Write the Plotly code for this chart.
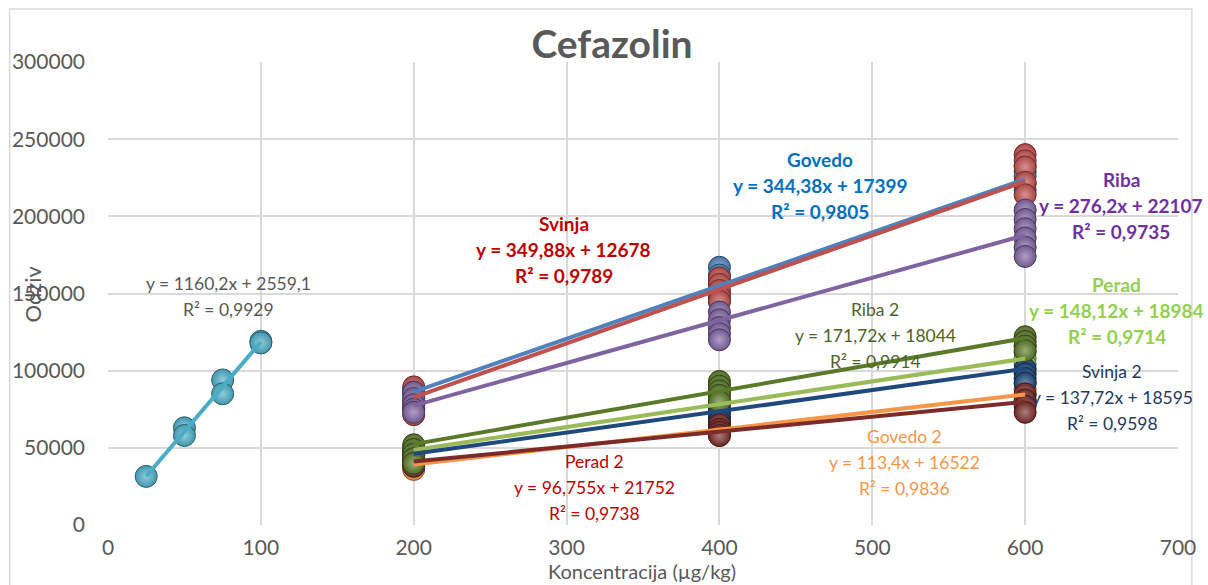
import plotly.graph_objects as go

# ---- data -------------------------------------------------------------
title = "Cefazolin"
x_title = "Koncentracija (µg/kg)"
y_title = "Odziv"

x_ticks = [0, 100, 200, 300, 400, 500, 600, 700]
y_ticks = [0, 50000, 100000, 150000, 200000, 250000, 300000]

# solvent calibration
cal_x = [25, 50, 50, 75, 75, 100, 100]
cal_y = [31500, 63000, 58000, 94000, 85000, 119000, 118000]
cal_slope = 1160.2
cal_intercept = 2559.1
cal_r2 = 0.9929

# matrix-matched calibrations, replicate responses per level
levels = [200, 400, 600]

govedo = [[88000, 85000, 82000, 78000, 75000],
          [167000, 162000, 157000, 150000, 145000],
          [233000, 229000, 226000, 221000, 217000]]
svinja = [[89500, 86000, 80000, 76000, 71500],
          [160000, 156000, 152000, 148000, 145000],
          [240000, 236000, 232000, 222000, 214000]]
riba = [[86000, 82000, 78000, 75000, 73000],
        [138000, 133000, 128000, 124000, 120000],
        [204000, 198000, 192000, 186000, 180000, 174000]]
perad = [[50000, 47000, 44000, 41000],
         [85000, 81000, 77000, 73000],
         [116000, 112000, 108000, 104000]]
govedo2 = [[42000, 40000, 38000, 36000],
           [70000, 66000, 62000, 58000],
           [92000, 88000, 84000, 80000]]
svinja2 = [[48000, 45000, 42000, 40000],
           [78000, 74000, 70000, 67000],
           [101000, 98000, 95000, 92000]]
perad2 = [[46000, 43000, 40000, 38000],
          [65000, 62000, 60000, 58000],
          [85000, 81000, 77000, 73000]]
riba2 = [[52000, 49000, 46000, 43000, 40000],
         [93000, 90000, 87000, 84000, 80000],
         [122000, 119000, 116000, 113000]]

series_names = ["Govedo", "Svinja", "Riba", "Perad",
                "Govedo 2", "Svinja 2", "Perad 2", "Riba 2"]
series_values = [govedo, svinja, riba, perad, govedo2, svinja2, perad2, riba2]
slopes = [344.38, 349.88, 276.2, 148.12, 113.4, 137.72, 96.755, 171.72]
intercepts = [17399, 12678, 22107, 18984, 16522, 18595, 21752, 18044]
r2_values = [0.9805, 0.9789, 0.9735, 0.9714, 0.9836, 0.9598, 0.9738, 0.9914]

# ---- styling ----------------------------------------------------------
marker_colors = {
    "cal": "#4BACC6",
    "Govedo": "#4F81BD", "Svinja": "#C0504D", "Riba": "#8064A2",
    "Perad": "#9BBB59", "Govedo 2": "#F79646", "Svinja 2": "#1F497D",
    "Perad 2": "#7B2C2A", "Riba 2": "#5A7A2A",
}
label_style = {
    # name: (text colour, bold, x, y) in data units
    "cal": ("#595959", False, 79, 148000),
    "Govedo": ("#0070C0", True, 466, 219700),
    "Svinja": ("#C00000", True, 298, 178200),
    "Riba": ("#7030A0", True, 663, 206700),
    "Riba 2": ("#4F6228", False, 502, 123100),
    "Perad": ("#92D050", True, 660, 138700),
    "Svinja 2": ("#1F3864", False, 657, 82300),
    "Govedo 2": ("#F79646", False, 521, 40800),
    "Perad 2": ("#C00000", False, 318, 24000),
}

FONT = "Lato"
GRID = "#D9D9D9"
TEXT = "#595959"


def blend(hex_color, other, t):
    a = [int(hex_color[i:i + 2], 16) for i in (1, 3, 5)]
    b = [int(other[i:i + 2], 16) for i in (1, 3, 5)]
    c = [round(a[k] + (b[k] - a[k]) * t) for k in range(3)]
    return "#%02X%02X%02X" % tuple(c)


def num(v):
    return f"{v:g}".replace(".", ",")


def sphere(color):
    return dict(
        size=22,
        color=blend(color, "#000000", 0.12),
        gradient=dict(type="radial", color=blend(color, "#FFFFFF", 0.38)),
        line=dict(color=blend(color, "#000000", 0.45), width=1),
    )


fig = go.Figure()

# bubbles first, trend lines on top
fig.add_trace(go.Scatter(x=cal_x, y=cal_y, mode="markers",
                         marker=sphere(marker_colors["cal"]),
                         showlegend=False, hoverinfo="x+y"))
for name, vals in zip(series_names, series_values):
    xs, ys = [], []
    for lv, reps in zip(levels, vals):
        xs += [lv] * len(reps)
        ys += reps
    fig.add_trace(go.Scatter(x=xs, y=ys, mode="markers", name=name,
                             marker=sphere(marker_colors[name]),
                             showlegend=False))

trend_x = [cal_x[0], cal_x[-1]]
fig.add_trace(go.Scatter(x=trend_x,
                         y=[cal_slope * v + cal_intercept for v in trend_x],
                         mode="lines", line=dict(color=marker_colors["cal"], width=4),
                         showlegend=False, hoverinfo="skip"))
for name, k, q in zip(series_names, slopes, intercepts):
    tx = [levels[0], levels[-1]]
    fig.add_trace(go.Scatter(x=tx, y=[k * v + q for v in tx], mode="lines",
                             line=dict(color=marker_colors[name], width=4),
                             showlegend=False, hoverinfo="skip"))

# trend line equations
annotations = []


def add_label(lines, color, bold, x, y):
    n = len(lines)
    for i, line in enumerate(lines):
        txt = f"<b>{line}</b>" if bold else line
        annotations.append(dict(
            x=x, y=y, xref="x", yref="y", text=txt, showarrow=False,
            yshift=(n - 1) / 2 * 26 - i * 26,
            font=dict(family=FONT, size=19 if bold else 17.5, color=color),
        ))


c, b, lx, ly = label_style["cal"]
add_label([f"y = {num(cal_slope)}x + {num(cal_intercept)}",
           f"R² = {num(cal_r2)}"], c, b, lx, ly)
for name, k, q, r2 in zip(series_names, slopes, intercepts, r2_values):
    c, b, lx, ly = label_style[name]
    add_label([name, f"y = {num(k)}x + {num(q)}", f"R² = {num(r2)}"], c, b, lx, ly)

# axis titles placed over the chart area
W, H = 1208, 585
L, R, T, B = 108, 23, 62, 60
pw, ph = W - L - R, H - T - B


def px(xp):
    return (xp - L) / pw


def py(yp):
    return 1 - (yp - T) / ph


annotations.append(dict(x=px(31), y=py(294), xref="paper", yref="paper",
                        xanchor="center", yanchor="middle",
                        text=y_title, textangle=-90, showarrow=False,
                        font=dict(family=FONT, size=22, color=TEXT)))
annotations.append(dict(x=px(645), y=py(571), xref="paper", yref="paper",
                        xanchor="center", yanchor="middle",
                        text=x_title, showarrow=False,
                        font=dict(family=FONT, size=20, color=TEXT)))

fig.update_layout(
    width=W, height=H,
    margin=dict(l=L, r=R, t=T, b=B),
    paper_bgcolor="white", plot_bgcolor="white",
    title=dict(text=f"<b>{title}</b>", xref="container", x=612 / W,
               xanchor="center", yref="container", y=1 - 44 / H,
               yanchor="middle",
               font=dict(family=FONT, size=39, color=TEXT)),
    annotations=annotations,
    shapes=[dict(type="rect", xref="paper", yref="paper",
                 x0=px(9), x1=px(1199), y0=py(620), y1=py(9),
                 line=dict(color=GRID, width=1.5), layer="below")],
    showlegend=False,
)
fig.update_xaxes(range=[0, 700], tickvals=x_ticks,
                 ticktext=[str(v) for v in x_ticks],
                 showgrid=True, gridcolor=GRID,
                 gridwidth=1.5, zeroline=False, showline=False,
                 tickfont=dict(family=FONT, size=21, color=TEXT), ticks="",
                 ticklabelstandoff=8)
fig.update_yaxes(range=[0, 300000], tickvals=y_ticks,
                 ticktext=[str(v) for v in y_ticks],
                 showgrid=True, gridcolor=GRID,
                 gridwidth=1.5, zeroline=False, showline=False,
                 tickfont=dict(family=FONT, size=21, color=TEXT), ticks="",
                 ticklabelstandoff=22)

fig.write_html("out.html")
